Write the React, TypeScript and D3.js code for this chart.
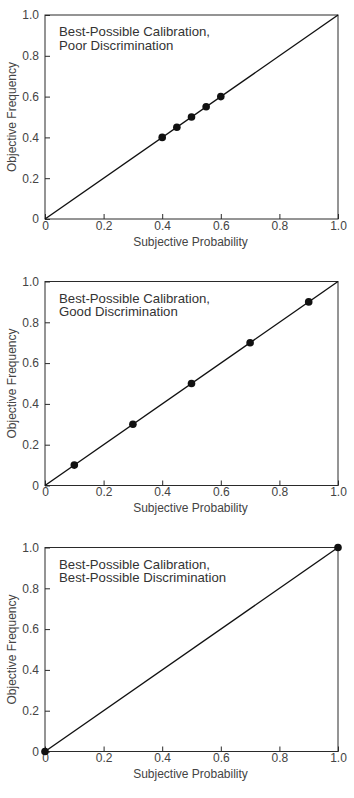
import React, { useRef, useEffect } from 'react';
import * as d3 from 'd3';

// tick values shared by both axes
const tickValues = [0, 0.2, 0.4, 0.6, 0.8, 1.0];

// title lines of each panel
const titlesPoor = ['Best-Possible Calibration,', 'Poor Discrimination'];
const titlesGood = ['Best-Possible Calibration,', 'Good Discrimination'];
const titlesBest = ['Best-Possible Calibration,', 'Best-Possible Discrimination'];

// points: subjective probability (x) vs objective frequency (y)
const poorX = [0.4, 0.45, 0.5, 0.55, 0.6];
const poorY = [0.4, 0.45, 0.5, 0.55, 0.6];
const goodX = [0.1, 0.3, 0.5, 0.7, 0.9];
const goodY = [0.1, 0.3, 0.5, 0.7, 0.9];
const bestX = [0, 1];
const bestY = [0, 1];

// perfect calibration diagonal
const diagonal = [0, 1];

const xLabel = 'Subjective Probability';
const yLabel = 'Objective Frequency';

const panels = [
  { titles: titlesPoor, xs: poorX, ys: poorY, top: 15 },
  { titles: titlesGood, xs: goodX, ys: goodY, top: 281.5 },
  { titles: titlesBest, xs: bestX, ys: bestY, top: 547.5 },
];

const App = () => {
  const ref = useRef<SVGSVGElement | null>(null);

  useEffect(() => {
    if (!ref.current) return;
    const svg = d3.select(ref.current);
    svg.selectAll('*').remove();

    const left = 45;
    const width = 293;
    const height = 204;
    const fmt = (d: any) => (d === 0 ? '0' : d3.format('.1f')(d));
    const font = 'Liberation Sans, Arial, sans-serif';
    const textColor = '#444';
    const lineColor = '#2a2a2a';

    panels.forEach(p => {
      const g = svg.append('g').attr('transform', `translate(${left},${p.top})`);

      const x = d3.scaleLinear().domain([0, 1]).range([0, width]);
      const y = d3.scaleLinear().domain([0, 1]).range([height, 0]);

      // bottom axis, ticks pointing in
      const xa = g.append('g')
        .attr('transform', `translate(0,${height})`)
        .call(d3.axisBottom(x).tickValues(tickValues).tickFormat(fmt).tickSize(-5).tickSizeOuter(0).tickPadding(2));
      xa.select('.domain').remove();
      xa.selectAll('line').attr('stroke', lineColor);
      xa.selectAll('text').attr('fill', textColor).attr('font-size', 12).attr('font-family', font);

      // left axis
      const ya = g.append('g')
        .call(d3.axisLeft(y).tickValues(tickValues).tickFormat(fmt).tickSize(-5).tickSizeOuter(0).tickPadding(6));
      ya.select('.domain').remove();
      ya.selectAll('line').attr('stroke', lineColor);
      ya.selectAll('text').attr('fill', textColor).attr('font-size', 12).attr('font-family', font);

      // frame
      g.append('rect')
        .attr('width', width)
        .attr('height', height)
        .attr('fill', 'none')
        .attr('stroke', lineColor)
        .attr('stroke-width', 1);

      // diagonal
      const line = d3.line<number>().x(d => x(d)).y(d => y(d));
      g.append('path')
        .datum(diagonal)
        .attr('d', line)
        .attr('fill', 'none')
        .attr('stroke', '#111')
        .attr('stroke-width', 1.4);

      // points
      g.selectAll('circle.pt')
        .data(p.xs)
        .join('circle')
        .attr('class', 'pt')
        .attr('cx', d => x(d))
        .attr('cy', (d, i) => y(p.ys[i]))
        .attr('r', 3.8)
        .attr('fill', '#111');

      // panel title
      const t = g.append('text')
        .attr('x', 14)
        .attr('y', 21)
        .attr('font-size', 13.2)
        .attr('font-family', font)
        .attr('fill', '#333');
      p.titles.forEach((s, i) => {
        t.append('tspan').attr('x', 14).attr('dy', i === 0 ? 0 : 13.5).text(s);
      });

      // axis titles
      g.append('text')
        .attr('x', width / 2 - 1)
        .attr('y', height + 26.5)
        .attr('text-anchor', 'middle')
        .attr('font-size', 12)
        .attr('font-family', font)
        .attr('fill', textColor)
        .text(xLabel);

      g.append('text')
        .attr('transform', `translate(-29,${height / 2}) rotate(-90)`)
        .attr('text-anchor', 'middle')
        .attr('font-size', 12)
        .attr('font-family', font)
        .attr('fill', textColor)
        .text(yLabel);
    });
  }, []);

  return (
    <svg
      ref={ref}
      width={354}
      height={798}
      style={{ position: 'absolute', top: 0, left: 0, background: '#fff' }}
    />
  );
};

export default App;
